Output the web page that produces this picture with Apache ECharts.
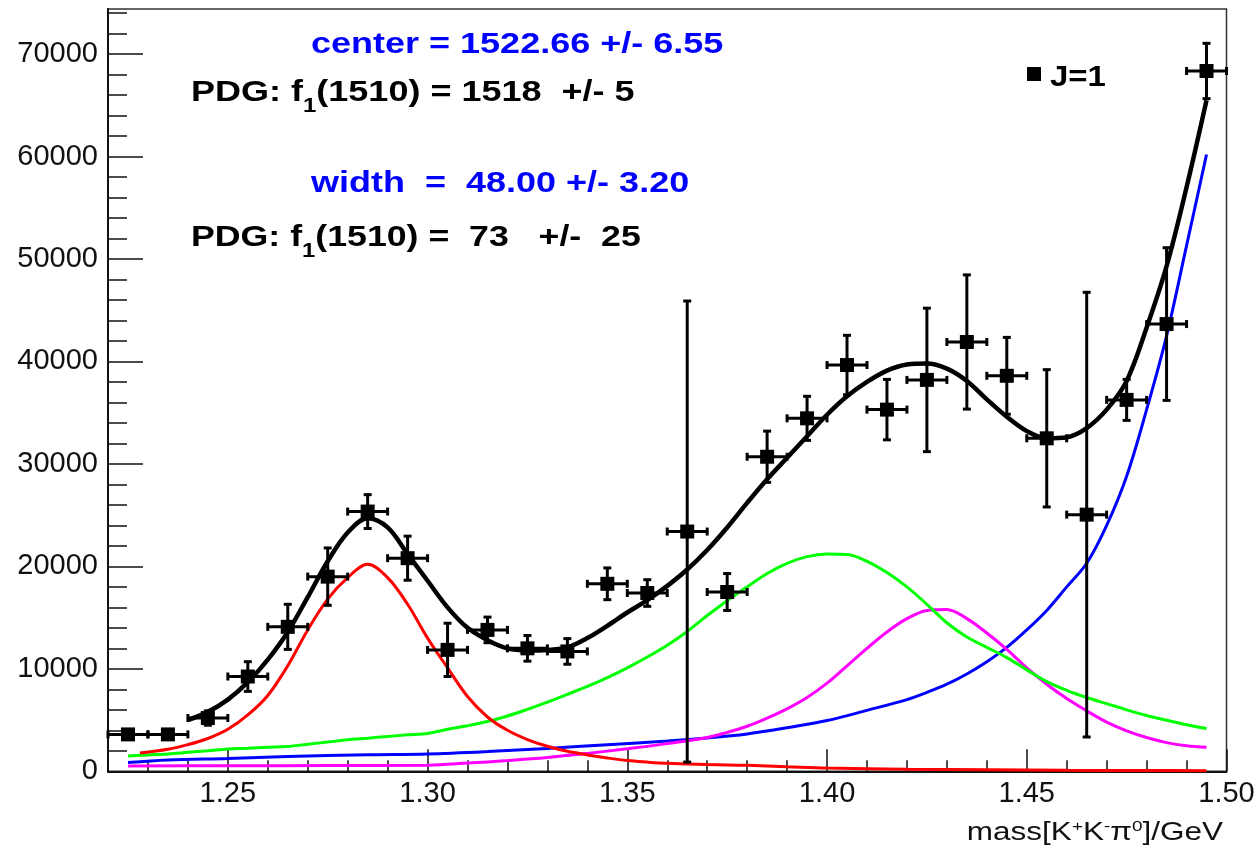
<!DOCTYPE html>
<html>
<head>
<meta charset="utf-8">
<script src="https://cdn.jsdelivr.net/npm/echarts@6/dist/echarts.min.js"></script>
<style>
  html, body { margin: 0; padding: 0; background: #fff; }
  #chart { width: 1259px; height: 850px; }
</style>
</head>
<body>
<div id="chart"></div>
<script>
// Binned K+K-pi0 mass spectrum (bin centers in GeV), yields and their errors
const binCenters = [1.225, 1.235, 1.245, 1.255, 1.265, 1.275, 1.285, 1.295, 1.305, 1.315,
                    1.325, 1.335, 1.345, 1.355, 1.365, 1.375, 1.385, 1.395, 1.405, 1.415,
                    1.425, 1.435, 1.445, 1.455, 1.465, 1.475, 1.485, 1.495];
const yields = [3600, 3600, 5200, 9250, 14100, 19000, 25350, 20800, 11850, 13800,
                12000, 11700, 18300, 17400, 23400, 17500, 30700, 34450, 39650, 35300,
                38200, 41900, 38600, 32500, 25050, 36250, 43650, 68350];
const yieldErrors = [400, 400, 700, 1450, 2200, 2800, 1650, 2150, 2600, 1250,
                     1250, 1250, 1550, 1300, 22500, 1800, 2500, 2150, 2900, 2950,
                     7000, 6550, 3750, 6700, 21700, 2000, 7450, 2700];
const binHalfWidth = 0.005;

// Total fit
const totalMass = [1.240, 1.245, 1.250, 1.255, 1.260, 1.265, 1.270, 1.275, 1.280, 1.285,
                   1.290, 1.295, 1.300, 1.305, 1.310, 1.315, 1.320, 1.325, 1.330, 1.335,
                   1.340, 1.345, 1.350, 1.355, 1.360, 1.365, 1.370, 1.375, 1.380, 1.385,
                   1.390, 1.395, 1.400, 1.405, 1.410, 1.415, 1.420, 1.425, 1.430, 1.435,
                   1.440, 1.445, 1.450, 1.455, 1.460, 1.465, 1.470, 1.475, 1.480, 1.485,
                   1.490, 1.495];
const totalFit = [5000, 5800, 7000, 8700, 10900, 13600, 17000, 20500, 23300, 24700,
                  23800, 21200, 18600, 16000, 14000, 12800, 12000, 11800, 11850, 12100,
                  13000, 14200, 15500, 16700, 18100, 19700, 21600, 23800, 26200, 28500,
                  30600, 32700, 34800, 36600, 38000, 39100, 39700, 39800, 39300, 38100,
                  36300, 34600, 33200, 32500, 32600, 33500, 35300, 38100, 43300, 49300,
                  57000, 65500];

// Component near 1.285 GeV (red)
const redMass = [1.228, 1.235, 1.240, 1.245, 1.250, 1.255, 1.260, 1.265, 1.270, 1.275,
                 1.280, 1.285, 1.290, 1.295, 1.300, 1.305, 1.310, 1.315, 1.320, 1.325,
                 1.330, 1.335, 1.340, 1.345, 1.350, 1.355, 1.360, 1.365, 1.370, 1.375,
                 1.380, 1.390, 1.400, 1.420, 1.440, 1.460, 1.480, 1.495];
const redFit = [1780, 2150, 2600, 3200, 4100, 5500, 7400, 10300, 13800, 16800,
                18900, 20200, 18900, 16300, 13000, 10100, 7300, 5300, 4000, 3100,
                2450, 1950, 1600, 1300, 1050, 900, 780, 720, 660, 620,
                580, 450, 320, 200, 140, 100, 80, 60];

// Broad component near 1.40 GeV (green)
const greenMass = [1.225, 1.230, 1.235, 1.240, 1.245, 1.250, 1.255, 1.260, 1.265, 1.270,
                   1.275, 1.280, 1.285, 1.290, 1.295, 1.300, 1.305, 1.310, 1.315, 1.320,
                   1.325, 1.330, 1.335, 1.340, 1.345, 1.350, 1.355, 1.360, 1.365, 1.370,
                   1.375, 1.380, 1.385, 1.390, 1.395, 1.400, 1.405, 1.410, 1.415, 1.420,
                   1.425, 1.430, 1.435, 1.440, 1.445, 1.450, 1.455, 1.460, 1.465, 1.470,
                   1.475, 1.480, 1.485, 1.490, 1.495];
const greenFit = [1500, 1600, 1700, 1850, 2000, 2170, 2250, 2350, 2420, 2650,
                  2850, 3070, 3230, 3400, 3560, 3700, 4100, 4450, 4860, 5400,
                  6050, 6750, 7500, 8280, 9150, 10100, 11150, 12300, 13650, 15200,
                  16650, 18000, 19300, 20300, 20950, 21200, 21150, 20500, 19400, 18000,
                  16300, 14500, 13100, 12100, 11100, 9900, 8750, 7900, 7200, 6600,
                  6000, 5450, 4980, 4550, 4170];

// Component near 1.43 GeV (magenta)
const magentaMass = [1.225, 1.250, 1.275, 1.300, 1.310, 1.320, 1.330, 1.340, 1.350, 1.360,
                     1.370, 1.375, 1.380, 1.385, 1.390, 1.395, 1.400, 1.405, 1.410, 1.415,
                     1.420, 1.425, 1.430, 1.435, 1.440, 1.445, 1.450, 1.455, 1.460, 1.465,
                     1.470, 1.475, 1.480, 1.485, 1.490, 1.495];
const magentaFit = [520, 540, 560, 600, 800, 1050, 1350, 1750, 2200, 2700,
                    3300, 3800, 4400, 5200, 6100, 7200, 8600, 10300, 12000, 13600,
                    14900, 15700, 15800, 14900, 13500, 11900, 10100, 8500, 7100, 5900,
                    4800, 3950, 3300, 2800, 2500, 2350];

// Rising component toward threshold (blue)
const blueMass = [1.225, 1.235, 1.250, 1.265, 1.285, 1.300, 1.315, 1.330, 1.345, 1.360,
                  1.370, 1.380, 1.390, 1.400, 1.410, 1.420, 1.425, 1.430, 1.435, 1.440,
                  1.445, 1.450, 1.455, 1.460, 1.465, 1.470, 1.475, 1.480, 1.485, 1.490,
                  1.495];
const blueFit = [850, 1100, 1250, 1440, 1610, 1700, 1930, 2230, 2600, 2950,
                 3250, 3650, 4250, 4950, 5950, 7000, 7700, 8500, 9500, 10700,
                 12100, 13800, 15700, 18000, 20300, 24000, 28800, 35300, 42500, 51300,
                 60200];

// Axis ticks and labels
const xMajorTicks = [1.25, 1.30, 1.35, 1.40, 1.45, 1.50];
const xMinorTicks = [1.22, 1.23, 1.24, 1.26, 1.27, 1.28, 1.29, 1.31, 1.32, 1.33, 1.34,
                     1.36, 1.37, 1.38, 1.39, 1.41, 1.42, 1.43, 1.44, 1.46, 1.47, 1.48, 1.49];
const yMajorTicks = [0, 10000, 20000, 30000, 40000, 50000, 60000, 70000];
const yMinorTicks = [2000, 4000, 6000, 8000, 12000, 14000, 16000, 18000, 22000, 24000,
                     26000, 28000, 32000, 34000, 36000, 38000, 42000, 44000, 46000, 48000,
                     52000, 54000, 56000, 58000, 62000, 64000, 66000, 68000, 72000, 74000];

const X_MIN = 1.22, X_MAX = 1.50, Y_MIN = 0, Y_MAX = 74400;
const FONT = '"Liberation Sans", Arial, Helvetica, sans-serif';

function pairs(xs, ys) { return xs.map((x, i) => [x, ys[i]]); }

const points = binCenters.map((x, i) => [x, yields[i], yieldErrors[i]]);

function fitLine(name, xs, ys, color, width, z) {
  return {
    name, type: 'line', data: pairs(xs, ys),
    xAxisIndex: 0, yAxisIndex: 0,
    showSymbol: false, smooth: 0.35, silent: true, z,
    lineStyle: { color, width }, clip: true
  };
}

const chart = echarts.init(document.getElementById('chart'), null, { renderer: 'canvas' });

const option = {
  backgroundColor: '#ffffff',
  animation: false,
  grid: {
    left: 108, right: 32.5, top: 9, bottom: 78.7,
    show: true, borderColor: '#333', borderWidth: 1.5, backgroundColor: 'transparent'
  },
  xAxis: [
    {
      type: 'value', min: X_MIN, max: X_MAX, position: 'bottom',
      axisLine: { show: true, onZero: false, lineStyle: { color: '#111', width: 2 } },
      axisTick: { show: true, inside: true, length: 22, customValues: xMajorTicks,
                  lineStyle: { color: '#111', width: 1.5 } },
      axisLabel: { show: true, customValues: xMajorTicks, margin: 8,
                   formatter: v => v.toFixed(2),
                   fontFamily: FONT, fontSize: 29, color: '#111' },
      splitLine: { show: false }
    },
    {
      type: 'value', min: X_MIN, max: X_MAX, position: 'bottom',
      axisLine: { show: false },
      axisTick: { show: true, inside: true, length: 11, customValues: xMinorTicks,
                  lineStyle: { color: '#111', width: 1.5 } },
      axisLabel: { show: false },
      splitLine: { show: false }
    }
  ],
  yAxis: [
    {
      type: 'value', min: Y_MIN, max: Y_MAX, position: 'left',
      axisLine: { show: true, onZero: false, lineStyle: { color: '#111', width: 2 } },
      axisTick: { show: true, inside: true, length: 35, customValues: yMajorTicks,
                  lineStyle: { color: '#111', width: 1.5 } },
      axisLabel: { show: true, customValues: yMajorTicks, margin: 10,
                   formatter: v => String(v),
                   fontFamily: FONT, fontSize: 29, color: '#111' },
      splitLine: { show: false }
    },
    {
      type: 'value', min: Y_MIN, max: Y_MAX, position: 'left',
      axisLine: { show: false },
      axisTick: { show: true, inside: true, length: 19, customValues: yMinorTicks,
                  lineStyle: { color: '#111', width: 1.5 } },
      axisLabel: { show: false },
      splitLine: { show: false }
    }
  ],
  series: [
    fitLine('blue', blueMass, blueFit, '#0000ff', 3, 2),
    fitLine('magenta', magentaMass, magentaFit, '#ff00ff', 3, 2),
    fitLine('green', greenMass, greenFit, '#00ff00', 3, 2),
    fitLine('red', redMass, redFit, '#ff0000', 3, 3),
    fitLine('total', totalMass, totalFit, '#000000', 4.5, 4),
    {
      name: 'errors', type: 'custom', xAxisIndex: 0, yAxisIndex: 0, z: 5, silent: true,
      data: points,
      renderItem(params, api) {
        const x = api.value(0), y = api.value(1), e = api.value(2);
        const c = api.coord([x, y]);
        const l = api.coord([x - binHalfWidth, y]);
        const r = api.coord([x + binHalfWidth, y]);
        const t = api.coord([x, y + e]);
        const b = api.coord([x, Math.max(y - e, 0)]);
        const st = { stroke: '#000', lineWidth: 3 };
        const cap = 4;
        const kids = [
          { type: 'line', shape: { x1: l[0], y1: c[1], x2: r[0], y2: c[1] }, style: st },
          { type: 'line', shape: { x1: l[0], y1: c[1] - cap, x2: l[0], y2: c[1] + cap }, style: st },
          { type: 'line', shape: { x1: r[0], y1: c[1] - cap, x2: r[0], y2: c[1] + cap }, style: st }
        ];
        if (c[1] - t[1] > 7) {
          kids.push(
            { type: 'line', shape: { x1: c[0], y1: t[1], x2: c[0], y2: b[1] }, style: st },
            { type: 'line', shape: { x1: c[0] - cap, y1: t[1], x2: c[0] + cap, y2: t[1] }, style: st },
            { type: 'line', shape: { x1: c[0] - cap, y1: b[1], x2: c[0] + cap, y2: b[1] }, style: st }
          );
        }
        return { type: 'group', children: kids };
      }
    },
    {
      name: 'J=1', type: 'scatter', xAxisIndex: 0, yAxisIndex: 0, z: 6, silent: true,
      data: points.map(p => [p[0], p[1]]),
      symbol: 'rect', symbolSize: 14,
      itemStyle: { color: '#000', opacity: 1 }
    }
  ],
  graphic: [
    {
      type: 'text', x: 311, y: 20.5, scaleX: 1.2,
      style: {
        text: '{m|center = 1522.66 +/- 6.55}', align: 'left', verticalAlign: 'top',
        rich: { m: { fontFamily: FONT, fontSize: 30, fontWeight: 'bold', lineHeight: 48, fill: '#0000ff' } }
      }
    },
    {
      type: 'text', x: 191, y: 68.5, scaleX: 1.2,
      style: {
        text: '{m|PDG: f}{s|1}{m|(1510) = 1518  +/- 5}', align: 'left', verticalAlign: 'top',
        rich: {
          m: { fontFamily: FONT, fontSize: 30, fontWeight: 'bold', lineHeight: 48, fill: '#000' },
          s: { fontFamily: FONT, fontSize: 20, fontWeight: 'bold', lineHeight: 18, verticalAlign: 'bottom', fill: '#000' }
        }
      }
    },
    {
      type: 'text', x: 311, y: 159.5, scaleX: 1.2,
      style: {
        text: '{m|width  =  48.00 +/- 3.20}', align: 'left', verticalAlign: 'top',
        rich: { m: { fontFamily: FONT, fontSize: 30, fontWeight: 'bold', lineHeight: 48, fill: '#0000ff' } }
      }
    },
    {
      type: 'text', x: 191, y: 213.5, scaleX: 1.19,
      style: {
        text: '{m|PDG: f}{s|1}{m|(1510) =  73   +/-  25}', align: 'left', verticalAlign: 'top',
        rich: {
          m: { fontFamily: FONT, fontSize: 30, fontWeight: 'bold', lineHeight: 48, fill: '#000' },
          s: { fontFamily: FONT, fontSize: 20, fontWeight: 'bold', lineHeight: 18, verticalAlign: 'bottom', fill: '#000' }
        }
      }
    },
    // legend entry
    { type: 'rect', shape: { x: 1027, y: 67, width: 14, height: 14 }, style: { fill: '#000' } },
    {
      type: 'text', x: 1050, y: 53.5, scaleX: 1.1,
      style: {
        text: '{m|J=1}', align: 'left', verticalAlign: 'top',
        rich: { m: { fontFamily: FONT, fontSize: 30, fontWeight: 'bold', lineHeight: 48, fill: '#000' } }
      }
    },
    // x axis title
    {
      type: 'text', x: 1223, y: 819, scaleX: 1.26,
      style: {
        text: '{m|mass[K}{p|+}{m|K}{p|-}{m|\u03c0}{p|0}{m|]/GeV}', align: 'right', verticalAlign: 'top',
        rich: {
          m: { fontFamily: FONT, fontSize: 25, lineHeight: 28, fill: '#111' },
          p: { fontFamily: FONT, fontSize: 15, lineHeight: 15, verticalAlign: 'top', fill: '#111' }
        }
      }
    }
  ]
};

chart.setOption(option);
</script>
</body>
</html>
